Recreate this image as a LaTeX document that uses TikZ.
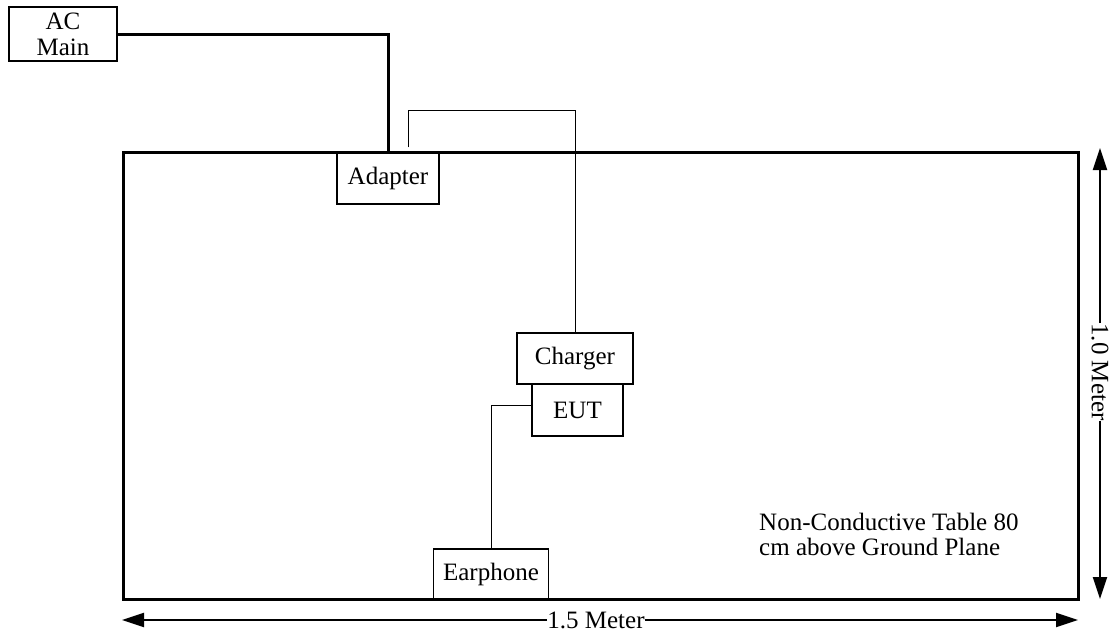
\documentclass[tikz,border=0pt]{standalone}
\usepackage{fontspec}
\setmainfont{Liberation Serif}
\usetikzlibrary{arrows.meta,calc}
\begin{document}
\begin{tikzpicture}[x=1pt,y=-1pt,
  devbox/.style={draw, line width=1.2pt, inner sep=0pt, align=center,
    font=\fontsize{25}{29}\selectfont},
  thickwire/.style={line width=3pt},
  thinwire/.style={line width=1pt},
  dimline/.style={line width=2pt},
  dimtip/.style={-{Triangle[length=22pt,width=14pt]}},
  dimlabel/.style={fill=white, inner sep=0pt, font=\fontsize{25}{29}\selectfont},
]
\useasboundingbox (0,0) rectangle (1112,632);

% table
\node[draw, line width=3pt, minimum width=955pt, minimum height=447pt, inner sep=0pt] (table) at (600.5,375.5) {};

% devices
\node[devbox, minimum width=108pt, minimum height=54pt] (ac) at (63,34) {AC\\[-3pt]Main};
\node[devbox, minimum width=102pt, minimum height=52pt] (adapter) at (388,178) {Adapter};
\node[devbox, minimum width=116pt, minimum height=51pt] (charger) at (575,358.5) {Charger};
\node[devbox, minimum width=91pt, minimum height=52pt] (eut) at (577.5,410) {EUT};
\node[devbox, minimum width=115pt, minimum height=51pt] (earphone) at (491,574.5) {Earphone};

% wires
\draw[thickwire] (ac.east) -| (adapter.north);
\coordinate (adout) at ($(adapter.north)+(20,-4)$);
\draw[thinwire] (adout) -- ++(0,-37) -| (charger.north);
\draw[thinwire] ($(eut.west)+(0,-5)$) -| (earphone.north);

% text
\node[anchor=base west, align=left, inner sep=0pt, font=\fontsize{25}{25}\selectfont] (note) at (759,555)
  {Non-Conductive Table 80\\cm above Ground Plane};

% dimensions
\coordinate (hl) at (122,620);
\coordinate (hr) at (1078,620);
\node[dimlabel] (hlab) at (596,620) {1.5 Meter};
\draw[dimline, dimtip] (hlab.west) -- (hl);
\draw[dimline, dimtip] (hlab.east) -- (hr);

\coordinate (vt) at (1100,148);
\coordinate (vb) at (1100,599);
\node[dimlabel, rotate=-90] (vlab) at (1100,372) {1.0 Meter};
\draw[dimline, dimtip] (vlab.west) -- (vt);
\draw[dimline, dimtip] (vlab.east) -- (vb);
\end{tikzpicture}
\end{document}
